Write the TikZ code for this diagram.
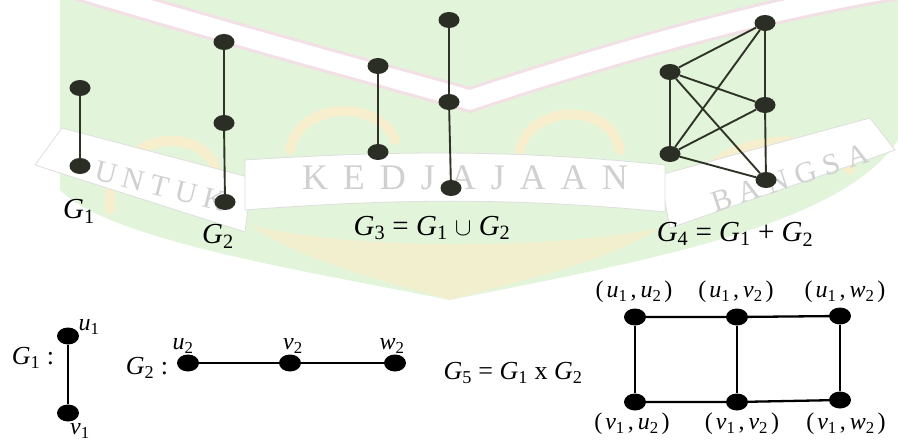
\documentclass[tikz,border=0pt]{standalone}
\usepackage{fontspec}
\setmainfont{Liberation Serif}
\usetikzlibrary{shapes.geometric}
\definecolor{wmgreen}{RGB}{226,245,218}
\definecolor{wmyellow}{RGB}{247,238,205}
\definecolor{wmpink}{RGB}{242,224,230}
\definecolor{wmgray}{RGB}{208,208,208}
\definecolor{wmline}{RGB}{222,222,222}
\definecolor{topnode}{RGB}{42,46,36}
\definecolor{topedge}{RGB}{48,52,40}
\newcommand{\Gs}[1]{\textit{G}\textsubscript{#1}}
\newcommand{\vl}[2]{\textit{#1}\textsubscript{#2}}
\newcommand{\pr}[4]{(\kern3pt\vl{#1}{#2}\kern3pt,\kern4pt\vl{#3}{#4}\kern3pt)}
\begin{document}
\begin{tikzpicture}[x=1pt,y=-1pt,
  tv/.style={ellipse,fill=topnode,minimum width=21pt,minimum height=16pt,inner sep=0pt},
  bv/.style={ellipse,fill=black,minimum width=22pt,minimum height=17pt,inner sep=0pt},
  te/.style={draw=topedge,line width=1.9pt},
  be/.style={draw=black,line width=2.3pt},
  lab/.style={inner sep=0pt,font=\fontsize{29}{32}\selectfont},
  blab/.style={inner sep=0pt,font=\fontsize{26}{29}\selectfont},
  small/.style={inner sep=0pt,font=\fontsize{24}{27}\selectfont},
  wm/.style={inner sep=0pt,text=wmgray}]
\useasboundingbox (0,0) rectangle (898,441);
\fill[white] (0,0) rectangle (898,441);
% ---- watermark ----
\fill[wmgreen] (60,0) -- (898,0) -- (898,140) .. controls (840,230) and (620,265) .. (450,300) .. controls (300,270) and (110,240) .. (60,190) -- cycle;
\fill[wmyellow,opacity=0.8] (250,225) .. controls (350,250) and (550,250) .. (660,228) .. controls (600,265) and (520,280) .. (450,300) .. controls (380,280) and (300,260) .. (250,225) -- cycle;
\begin{scope}[wmyellow,line width=10pt,line cap=round]
\draw (110,210) .. controls (105,140) and (190,120) .. (215,165);
\draw (290,150) .. controls (300,100) and (380,100) .. (395,140);
\draw (520,150) .. controls (530,105) and (610,100) .. (620,150);
\draw (690,200) .. controls (700,140) and (820,120) .. (850,170);
\end{scope}
\draw[wmpink,line width=25pt] (70,-14) .. controls (250,40) and (400,80) .. (470,100) .. controls (560,70) and (750,10) .. (910,-14);
\draw[white,line width=19pt] (70,-14) .. controls (250,40) and (400,80) .. (470,100) .. controls (560,70) and (750,10) .. (910,-14);
\filldraw[fill=white,draw=wmline,line width=0.8pt] (35,165) -- (62,128) -- (252,178) -- (245,232) -- cycle;
\filldraw[fill=white,draw=wmline,line width=0.8pt] (660,175) -- (870,118) -- (895,150) -- (670,228) -- cycle;
\filldraw[fill=white,draw=wmline,line width=0.8pt] (245,160) .. controls (400,150) and (520,150) .. (665,165) -- (665,212) .. controls (520,198) and (400,198) .. (245,210) -- cycle;
\node[wm,rotate=-14,font=\fontsize{30}{32}\selectfont] (wmu) at (160,186) {U\kern7pt N\kern7pt T\kern7pt U\kern7pt K};
\node[wm,font=\fontsize{36}{38}\selectfont] (wmk) at (465,178) {K\kern15pt E\kern15pt D\kern15pt J\kern15pt A\kern15pt J\kern15pt A\kern15pt A\kern15pt N};
\node[wm,rotate=18,font=\fontsize{30}{32}\selectfont] (wmb) at (790,178) {B\kern8pt A\kern8pt N\kern8pt G\kern8pt S\kern8pt A};
% ---- top graphs ----
\node[tv] (a1) at (80,88) {};
\node[tv] (a2) at (80,166) {};
\node[tv] (b1) at (224,42) {};
\node[tv] (b2) at (224,123) {};
\node[tv] (b3) at (225,202) {};
\node[tv] (c1) at (378,66) {};
\node[tv] (c2) at (378,152) {};
\node[tv] (c3) at (449,20) {};
\node[tv] (c4) at (449,102) {};
\node[tv] (c5) at (451,188) {};
\node[tv] (d1) at (765,23) {};
\node[tv] (d2) at (670,72) {};
\node[tv] (d3) at (765,105) {};
\node[tv] (d4) at (670,154) {};
\node[tv] (d5) at (766,180) {};
\draw[te] (a1) -- (a2);
\draw[te] (b1) -- (b2) -- (b3);
\draw[te] (c1) -- (c2);
\draw[te] (c3) -- (c4) -- (c5);
\draw[te] (d1) -- (d3) -- (d5);
\draw[te] (d2) -- (d4);
\draw[te] (d2) -- (d1);
\draw[te] (d2) -- (d3);
\draw[te] (d2) -- (d5);
\draw[te] (d4) -- (d1);
\draw[te] (d4) -- (d3);
\draw[te] (d4) -- (d5);
\node[lab] (la) at (79,211) {\Gs{1}};
\node[lab] (lb) at (218,236) {\Gs{2}};
\node[lab] (lc) at (432,228) {\Gs{3} = \Gs{1} $\cup$ \Gs{2}};
\node[lab] (ld) at (735,234) {\Gs{4} = \Gs{1} + \Gs{2}};
% ---- bottom graphs ----
\node[small] (lu1) at (89,327) {\vl{u}{1}};
\node[small] (lv1) at (80,431) {\vl{v}{1}};
\node[small] (lu2) at (183,346) {\vl{u}{2}};
\node[small] (lv2) at (293,346) {\vl{v}{2}};
\node[small] (lw2) at (392,346) {\vl{w}{2}};
\node[bv] (u1) at (68,336) {};
\node[bv] (v1) at (68,413) {};
\node[bv] (u2) at (188,363) {};
\node[bv] (v2) at (290,363) {};
\node[bv] (w2) at (395,363) {};
\draw[be] (u1) -- (v1);
\draw[be] (u2) -- (v2) -- (w2);
\node[blab] (lg1) at (33,358) {\Gs{1} :};
\node[blab] (lg2) at (147,368) {\Gs{2} :};
\node[blab] (lg5) at (513,373) {\Gs{5} = \Gs{1} x \Gs{2}};
\node[bv] (p1) at (635,317) {};
\node[bv] (p2) at (737,317) {};
\node[bv] (p3) at (840,316) {};
\node[bv] (q1) at (635,402) {};
\node[bv] (q2) at (737,402) {};
\node[bv] (q3) at (840,400) {};
\draw[be] (p1) -- (p2) -- (p3);
\draw[be] (q1) -- (q2) -- (q3);
\draw[be] (p1) -- (q1);
\draw[be] (p2) -- (q2);
\draw[be] (p3) -- (q3);
\node[small] (lp1) at (634,292) {\pr{u}{1}{u}{2}};
\node[small] (lp2) at (736,292) {\pr{u}{1}{v}{2}};
\node[small] (lp3) at (845,292) {\pr{u}{1}{w}{2}};
\node[small] (lq1) at (632,424) {\pr{v}{1}{u}{2}};
\node[small] (lq2) at (742,424) {\pr{v}{1}{v}{2}};
\node[small] (lq3) at (846,424) {\pr{v}{1}{w}{2}};
\end{tikzpicture}
\end{document}
